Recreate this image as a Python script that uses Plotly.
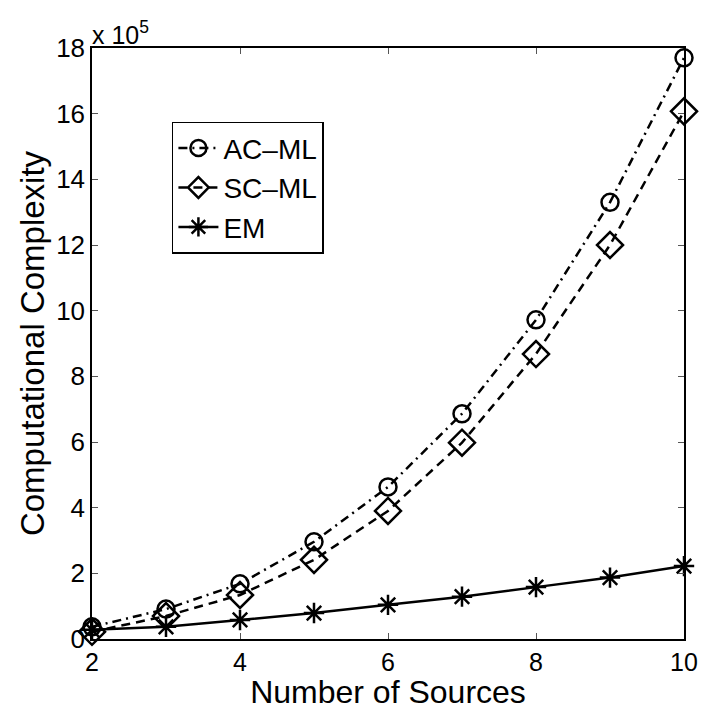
import plotly.graph_objects as go

sources = [2, 3, 4, 5, 6, 7, 8, 9, 10]
ac_ml = [0.37e5, 0.91e5, 1.68e5, 2.96e5, 4.63e5, 6.86e5, 9.72e5, 13.3e5, 17.7e5]
sc_ml = [0.22e5, 0.70e5, 1.34e5, 2.41e5, 3.90e5, 5.98e5, 8.68e5, 12.0e5, 16.07e5]
em = [0.28e5, 0.37e5, 0.58e5, 0.79e5, 1.04e5, 1.29e5, 1.58e5, 1.87e5, 2.22e5]
ytick_vals = [0, 2e5, 4e5, 6e5, 8e5, 10e5, 12e5, 14e5, 16e5, 18e5]
ytick_text = ["0", "2", "4", "6", "8", "10", "12", "14", "16", "18"]
xtick_vals = [2, 4, 6, 8, 10]

FONT = "Liberation Sans, Arial, sans-serif"

fig = go.Figure()
fig.add_trace(go.Scatter(
    x=sources, y=ac_ml, name="AC\u2013ML", mode="lines+markers", cliponaxis=False,
    line=dict(color="black", width=2.5, dash="9px,5px,2px,5px"),
    marker=dict(symbol="circle-open", size=17, color="black", line=dict(width=2.5)),
))
fig.add_trace(go.Scatter(
    x=sources, y=sc_ml, name="SC\u2013ML", mode="lines+markers", cliponaxis=False,
    line=dict(color="black", width=2.5, dash="9px,6px"),
    marker=dict(symbol="diamond-open", size=20, color="black", line=dict(width=2.5)),
))
fig.add_trace(go.Scatter(
    x=sources, y=em, name="EM", mode="lines+markers", cliponaxis=False,
    line=dict(color="black", width=2.5),
    marker=dict(symbol="asterisk-open", size=17, color="black", line=dict(width=2.5)),
))

fig.update_layout(
    width=703, height=710,
    margin=dict(l=92, r=19, t=48, b=71),
    paper_bgcolor="white", plot_bgcolor="white",
    font=dict(family=FONT, size=25, color="black"),
    showlegend=True,
    legend=dict(
        x=0.135, y=0.875, xanchor="left", yanchor="top",
        bgcolor="white", bordercolor="black", borderwidth=1.5,
        font=dict(family=FONT, size=28), tracegroupgap=0,
        itemwidth=40,
    ),
    xaxis=dict(
        range=[2, 10], tickvals=xtick_vals, ticks="inside", ticklen=6,
        tickcolor="#555", mirror="allticks", showline=True, linecolor="black",
        linewidth=1.5, showgrid=False, zeroline=False, automargin=False,
        title=dict(text="Number of Sources", font=dict(size=32), standoff=4),
        tickfont=dict(size=25),
    ),
    yaxis=dict(
        range=[0, 18e5], tickvals=ytick_vals, ticktext=ytick_text, ticks="inside",
        ticklen=6, tickcolor="#555", mirror="allticks", showline=True,
        linecolor="black", linewidth=1.5, showgrid=False, zeroline=False,
        automargin=False,
        title=dict(text="Computational Complexity", font=dict(size=33), standoff=2),
        tickfont=dict(size=26),
    ),
    annotations=[dict(
        text="x 10<sup>5</sup>", xref="paper", yref="paper", x=0.0, y=1.0,
        xanchor="left", yanchor="bottom", showarrow=False,
        font=dict(family=FONT, size=25), xshift=-2, yshift=-3,
    )],
)

fig.write_html("out.html")
